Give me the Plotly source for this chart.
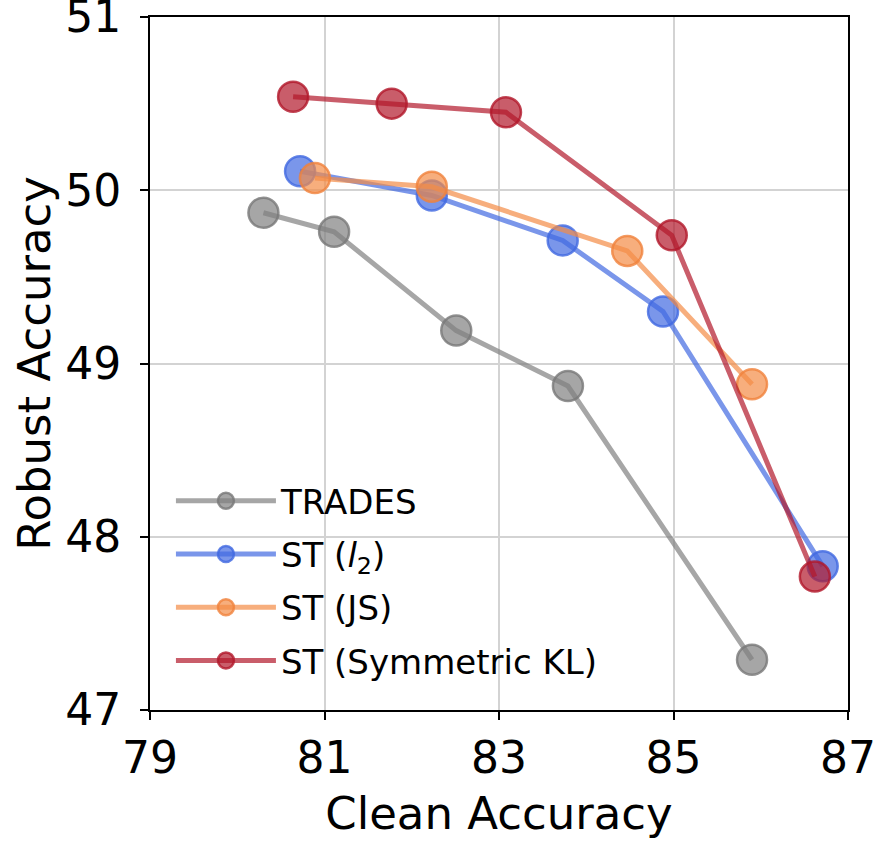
import plotly.graph_objects as go

# clean / robust accuracy
trades_clean = [80.30, 81.11, 82.51, 83.79, 85.90]
trades_robust = [49.87, 49.76, 49.19, 48.87, 47.29]

l2_clean = [80.72, 82.23, 83.73, 84.88, 86.71]
l2_robust = [50.11, 49.97, 49.71, 49.30, 47.83]

js_clean = [80.89, 82.23, 84.47, 85.90]
js_robust = [50.07, 50.02, 49.65, 48.88]

skl_clean = [80.64, 81.77, 83.08, 84.98, 86.62]
skl_robust = [50.54, 50.50, 50.45, 49.74, 47.77]

series = [
    ("TRADES", trades_clean, trades_robust, "rgba(128,128,128,0.7)", "rgba(120,120,120,0.8)"),
    ("ST (<i>l</i><sub>2</sub>)", l2_clean, l2_robust, "rgba(65,105,225,0.7)", "rgba(65,105,225,0.8)"),
    ("ST (JS)", js_clean, js_robust, "rgba(244,140,70,0.7)", "rgba(240,130,60,0.8)"),
    ("ST (Symmetric KL)", skl_clean, skl_robust, "rgba(178,24,43,0.7)", "rgba(178,24,43,0.8)"),
]

fig = go.Figure()
for i, (name, xs, ys, col, edge) in enumerate(series):
    fig.add_trace(go.Scatter(
        x=xs, y=ys, name=name, mode="lines+markers", legendgroup=str(i),
        line=dict(color=col, width=5),
        marker=dict(size=30, color=col, line=dict(color=edge, width=2.5)),
    ))

axis_common = dict(
    showline=True, linecolor="black", linewidth=2, mirror=True,
    ticks="outside", ticklen=8, tickwidth=2, tickcolor="black",
    showgrid=True, gridcolor="#d3d3d3", gridwidth=2,
    zeroline=False, automargin=False, ticklabeloverflow="allow",
    tickfont=dict(size=44, color="black"),
)

fig.update_xaxes(range=[79, 87], tickvals=[79, 81, 83, 85, 87],
                 title=dict(text="Clean Accuracy", font=dict(size=45, color="black"), standoff=16),
                 **axis_common)
fig.update_yaxes(range=[47, 51], tickvals=[47, 48, 49, 50, 51], ticklabelstandoff=10,
                 title=dict(text="Robust Accuracy", font=dict(size=45, color="black"), standoff=0),
                 **axis_common)

fig.update_layout(
    width=875, height=846,
    margin=dict(l=150, r=27, t=17, b=136),
    plot_bgcolor="white", paper_bgcolor="white",
    font=dict(family="DejaVu Sans", color="black"),
    legend=dict(x=0.03, y=0.03, xanchor="left", yanchor="bottom",
                bgcolor="rgba(255,255,255,0)", font=dict(size=34),
                itemsizing="trace", itemwidth=100, tracegroupgap=6),
    showlegend=True,
)

# drop the default 8px page margin so the figure sits at the window corner
fig.write_html("out.html", config={"displayModeBar": False},
               post_script="document.body.style.margin='0';")
